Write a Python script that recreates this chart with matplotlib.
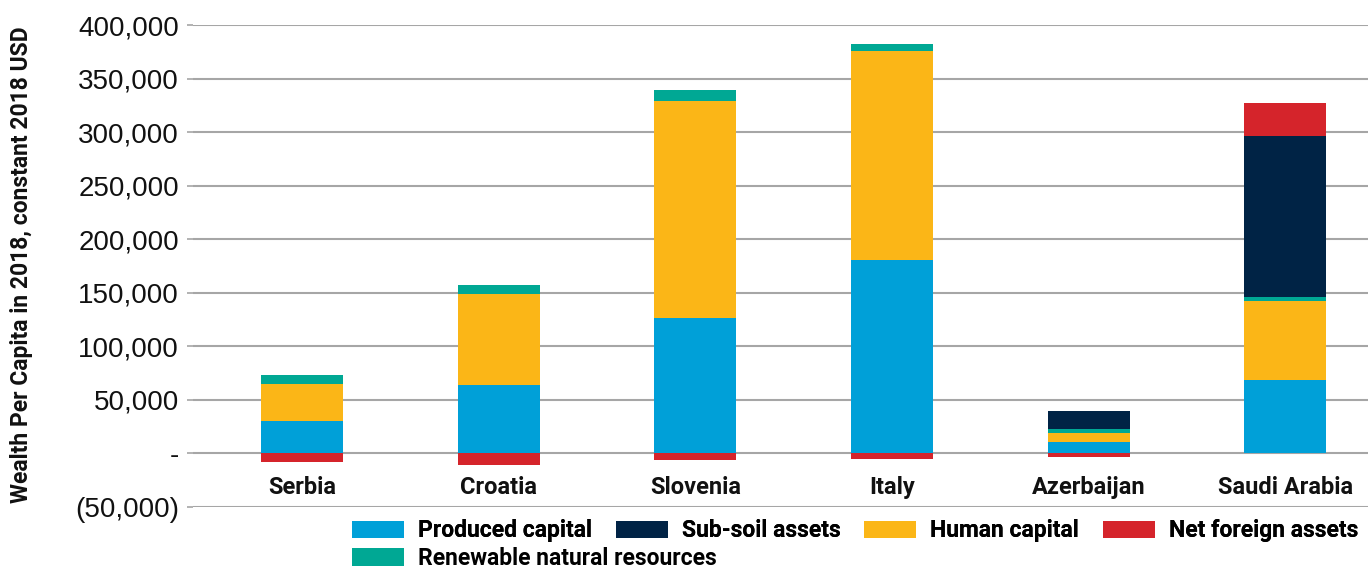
import matplotlib

matplotlib.use("Agg")
import matplotlib.pyplot as plt  # noqa: E402
import numpy as np  # noqa: E402
from matplotlib.ticker import FuncFormatter  # noqa: E402

countries = ["Serbia", "Croatia", "Slovenia", "Italy", "Azerbaijan", "Saudi Arabia"]
produced_capital = [30200, 63800, 126200, 180400, 10300, 68500]
human_capital = [34600, 85100, 202800, 195300, 8700, 73600]
renewable_resources = [8400, 8400, 10300, 6600, 3400, 3700]
subsoil_assets = [0, 0, 0, 0, 16900, 150500]
net_foreign_assets = [-8000, -11000, -6000, -5500, -3000, 30800]

COLORS = {
    "Produced capital": "#00A0D8",
    "Sub-soil assets": "#002345",
    "Human capital": "#FBB617",
    "Net foreign assets": "#D5242B",
    "Renewable natural resources": "#00A894",
}
TEXT_FONT = "Roboto"


def accounting(value, _pos):
    if abs(value) < 1:
        return "-"
    if value < 0:
        return f"({abs(value):,.0f})"
    return f"{value:,.0f}"


fig = plt.figure(figsize=(13.68, 5.69), dpi=100)
ax = fig.add_axes([0.141, 0.109, 0.859, 0.847])

x = np.arange(len(countries))
width = 0.417
series = [
    ("Produced capital", produced_capital),
    ("Human capital", human_capital),
    ("Renewable natural resources", renewable_resources),
    ("Sub-soil assets", subsoil_assets),
    ("Net foreign assets", net_foreign_assets),
]
# positive parts stack upward from zero, negative parts hang below it
pos_base = np.zeros(len(countries))
neg_base = np.zeros(len(countries))
handles = {}
for name, values in series:
    values = np.asarray(values, dtype=float)
    bottoms = np.where(values >= 0, pos_base, neg_base)
    bars = ax.bar(x, values, width, bottom=bottoms, color=COLORS[name],
                  label=name, zorder=3)
    handles[name] = bars
    pos_base += np.where(values >= 0, values, 0)
    neg_base += np.where(values < 0, values, 0)

ax.set_ylim(-50000, 400000)
ax.set_xlim(-0.556, 5.42)
ax.set_yticks(np.arange(-50000, 400001, 50000))
ax.yaxis.set_major_formatter(FuncFormatter(accounting))
ax.grid(axis="y", color="#A6A6A6", linewidth=1.5, zorder=0)
for side in ["top", "right", "left"]:
    ax.spines[side].set_visible(False)
ax.spines["bottom"].set_position(("data", 0))
ax.spines["bottom"].set_visible(False)
ax.tick_params(axis="y", length=4, width=1.2, color="#A6A6A6", pad=6,
               labelsize=20, labelcolor="#111111")
for label in ax.get_yticklabels():
    label.set_family("Liberation Sans")
ax.set_xticks(x)
ax.set_xticklabels(countries, fontsize=17, fontweight="bold",
                   family=TEXT_FONT, color="#111111")
ax.tick_params(axis="x", length=0, pad=16)

fig.text(0.016, 0.534, "Wealth Per Capita in 2018, constant 2018 USD",
         rotation=90, ha="center", va="center", fontsize=16.5,
         fontweight="bold", family=TEXT_FONT, color="#111111")

legend_style = dict(frameon=False, loc="upper left", borderpad=0,
                    borderaxespad=0,
                    prop={"family": TEXT_FONT, "weight": "bold", "size": 16.5},
                    handlelength=2.27, handleheight=0.8, handletextpad=0.6,
                    columnspacing=1.05)
row_one = ["Produced capital", "Sub-soil assets", "Human capital",
           "Net foreign assets"]
row_two = ["Renewable natural resources"]
first = fig.legend([handles[n] for n in row_one], row_one, ncol=4,
                   bbox_to_anchor=(0.2573, 0.087), **legend_style)
fig.add_artist(first)
fig.legend([handles[n] for n in row_two], row_two, ncol=1,
           bbox_to_anchor=(0.2573, 0.039), **legend_style)

fig.savefig("out.png", dpi=100)
